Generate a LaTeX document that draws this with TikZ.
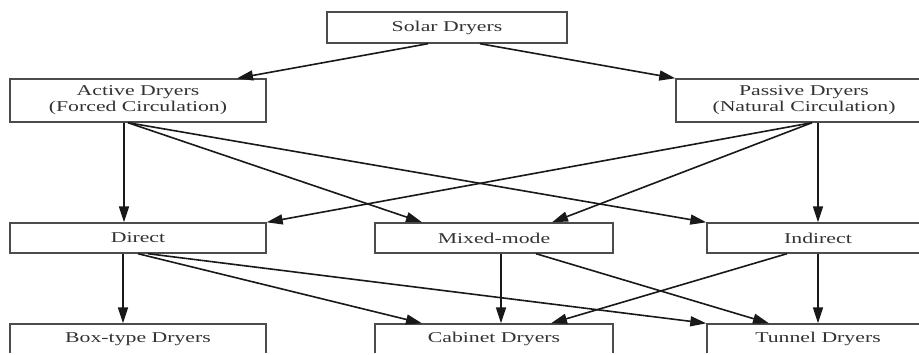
\documentclass[tikz,border=0pt]{standalone}
\usepackage{fontspec}
\setmainfont{Liberation Serif}[FakeStretch=1.45]
\usetikzlibrary{arrows.meta}
\begin{document}
\begin{tikzpicture}[x=1pt,y=-1pt,
  box/.style={draw=black!70,line width=1.4pt,rectangle,inner sep=0pt,
    minimum width=#1,align=center,text=black!80,
    font=\fontsize{15}{16}\selectfont},
  box/.default=256pt,
  link/.style={draw=black!90,line width=1.6pt,-{Triangle[length=16pt,width=10pt]}}]
\useasboundingbox (0,0) rectangle (919,354);
\fill[white] (0,0) rectangle (919,354);
\clip (0,0) rectangle (919,352.6);
% nodes
\node[box=240pt,minimum height=31pt] (solar) at (447,27.5) {Solar Dryers};
\node[box,minimum height=43pt] (active) at (138,100.5) {Active Dryers\\(Forced Circulation)};
\node[box,minimum height=43pt] (passive) at (804,100.5) {Passive Dryers\\(Natural Circulation)};
\node[box,minimum height=30pt] (direct) at (138,238) {Direct};
\node[box=238pt,minimum height=30pt] (mixed) at (494,238) {Mixed-mode};
\node[box=222pt,minimum height=30pt] (indirect) at (818,238) {Indirect};
\node[box,minimum height=30pt] (boxt) at (138,339) {Box-type Dryers};
\node[box=238pt,minimum height=30pt] (cabinet) at (494,339) {Cabinet Dryers};
\node[box=222pt,minimum height=30pt] (tunnel) at (818,339) {Tunnel Dryers};
% connectors
\draw[link] ([xshift=-19pt]solar.south) -- ([xshift=99pt]active.north);
\draw[link] ([xshift=33pt]solar.south) -- (passive.north west);
\draw[link] ([xshift=-14pt]active.south) -- ([xshift=-14pt]direct.north);
\draw[link] ([xshift=-10pt]active.south) -- ([xshift=-72pt]mixed.north);
\draw[link] ([xshift=-10pt]active.south) -- (indirect.north west);
\draw[link] ([xshift=8pt]passive.south) -- (direct.north east);
\draw[link] ([xshift=8pt]passive.south) -- ([xshift=58pt]mixed.north);
\draw[link] ([xshift=14pt]passive.south) -- (indirect.north);
\draw[link] ([xshift=-15pt]direct.south) -- ([xshift=-15pt]boxt.north);
\draw[link] ([xshift=0pt]direct.south) -- ([xshift=-72pt]cabinet.north);
\draw[link] ([xshift=10pt]direct.south) -- (tunnel.north west);
\draw[link] ([xshift=7pt]mixed.south) -- ([xshift=7pt]cabinet.north);
\draw[link] ([xshift=42pt]mixed.south) -- ([xshift=-49pt]tunnel.north);
\draw[link] ([xshift=-31pt]indirect.south) -- ([xshift=57pt]cabinet.north);
\draw[link] (indirect.south) -- (tunnel.north);
\end{tikzpicture}
\end{document}
